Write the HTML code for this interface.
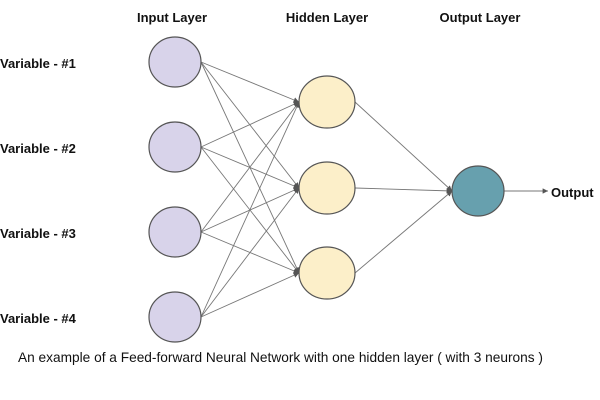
<!DOCTYPE html>
<html><head><style>body{margin:0;background:#fff}svg{display:block}</style></head><body>
<svg width="600" height="400" xmlns="http://www.w3.org/2000/svg" font-family="Liberation Sans, sans-serif">
<defs><marker id="a" markerWidth="6" markerHeight="6" refX="6" refY="3" orient="auto"><path d="M0,0 L6,3 L0,6z" fill="#555"/></marker></defs>
<g font-weight="bold" font-size="13" fill="#111">
<text x="172" y="22" text-anchor="middle">Input Layer</text>
<text x="327" y="22" text-anchor="middle">Hidden Layer</text>
<text x="480" y="22" text-anchor="middle">Output Layer</text>
<text x="0" y="68">Variable - #1</text>
<text x="0" y="153">Variable - #2</text>
<text x="0" y="238">Variable - #3</text>
<text x="0" y="323">Variable - #4</text>
<text x="551" y="197">Output</text>
</g>
<g stroke="#777" stroke-width="0.9" marker-end="url(#a)">
<line x1="201" y1="62" x2="299" y2="102"/><line x1="201" y1="62" x2="299" y2="188"/><line x1="201" y1="62" x2="299" y2="273"/>
<line x1="201" y1="147" x2="299" y2="102"/><line x1="201" y1="147" x2="299" y2="188"/><line x1="201" y1="147" x2="299" y2="273"/>
<line x1="201" y1="232" x2="299" y2="102"/><line x1="201" y1="232" x2="299" y2="188"/><line x1="201" y1="232" x2="299" y2="273"/>
<line x1="201" y1="317" x2="299" y2="102"/><line x1="201" y1="317" x2="299" y2="188"/><line x1="201" y1="317" x2="299" y2="273"/>
<line x1="355" y1="102" x2="452" y2="191"/><line x1="355" y1="188" x2="452" y2="191"/><line x1="355" y1="273" x2="452" y2="191"/>
<line x1="504" y1="191" x2="548" y2="191"/>
</g>
<g stroke="#555" stroke-width="1.2">
<ellipse cx="175" cy="62" rx="26" ry="25" fill="#d8d3ea"/>
<ellipse cx="175" cy="147" rx="26" ry="25" fill="#d8d3ea"/>
<ellipse cx="175" cy="232" rx="26" ry="25" fill="#d8d3ea"/>
<ellipse cx="175" cy="317" rx="26" ry="25" fill="#d8d3ea"/>
<ellipse cx="327" cy="102" rx="28" ry="26" fill="#fcefc9"/>
<ellipse cx="327" cy="188" rx="28" ry="26" fill="#fcefc9"/>
<ellipse cx="327" cy="273" rx="28" ry="26" fill="#fcefc9"/>
<ellipse cx="478" cy="191" rx="26" ry="25" fill="#67a0ae"/>
</g>
<text x="18" y="362" font-size="13.7" fill="#111">An example of a Feed-forward Neural Network with one hidden layer ( with 3 neurons )</text>
</svg>
</body></html>
